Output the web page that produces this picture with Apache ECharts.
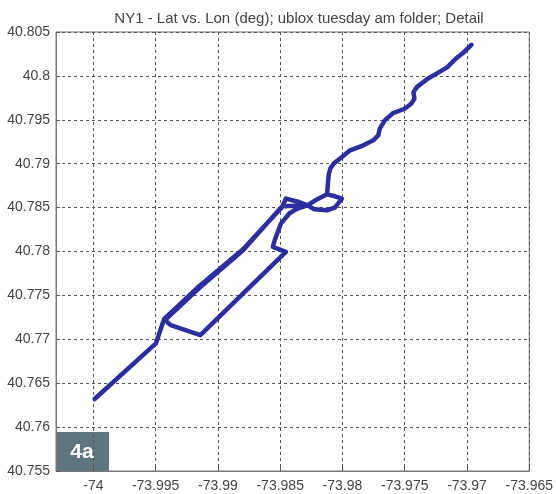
<!DOCTYPE html>
<html>
<head>
<meta charset="utf-8">
<script src="https://cdn.jsdelivr.net/npm/echarts@6/dist/echarts.min.js"></script>
<style>
html,body{margin:0;padding:0;background:#fff;}
#c{width:556px;height:494px;}
</style>
</head>
<body>
<div id="c"></div>
<script>
const titleText = 'NY1 - Lat vs. Lon (deg); ublox tuesday am folder; Detail';
const xTicks = [-74, -73.995, -73.99, -73.985, -73.98, -73.975, -73.97, -73.965];
const yTicks = [40.755, 40.76, 40.765, 40.77, 40.775, 40.78, 40.785, 40.79, 40.795, 40.8, 40.805];
const xRange = [-74.003, -73.965];
const yRange = [40.755, 40.805];
const badgeLabel = '4a';

// GPS track, in driving order
const lon = [
  -73.9999, -73.99498, -73.99440,
  -73.99155, -73.98798, -73.98480,
  -73.98454, -73.98348, -73.98282,
  -73.98226, -73.98123, -73.98059, -73.98004, -73.98059, -73.98123, -73.98218, -73.98282,
  -73.98361, -73.98425, -73.98494, -73.98544, -73.98559, -73.98454,
  -73.99141, -73.99379, -73.99433,
  -73.99155, -73.98798, -73.98480, -73.98380, -73.98282, -73.98218, -73.98123,
  -73.98117, -73.98109, -73.98097, -73.98070, -73.98004, -73.97938, -73.97832,
  -73.97752, -73.97713, -73.97700, -73.97660, -73.97594, -73.97501, -73.97448,
  -73.97422, -73.97430, -73.97403, -73.97316, -73.97224, -73.97157, -73.97091,
  -73.97025, -73.96964
];
const lat = [
  40.7632, 40.76953, 40.77198,
  40.77578, 40.78014, 40.78520,
  40.78602, 40.78564, 40.78526,
  40.78481, 40.78469, 40.78503, 40.78602, 40.78629, 40.78651, 40.78583, 40.78526,
  40.78489, 40.78435, 40.78318, 40.78128, 40.78052, 40.77995,
  40.77047, 40.77161, 40.77229,
  40.77599, 40.78026, 40.78514, 40.78522, 40.78526, 40.78583, 40.78651,
  40.78773, 40.78887, 40.78944, 40.79001, 40.79076, 40.79152, 40.79209,
  40.79266, 40.79322, 40.79399, 40.79493, 40.79576, 40.79626, 40.79683,
  40.79740, 40.79815, 40.79872, 40.79968, 40.80043, 40.80100, 40.80195,
  40.80270, 40.80354
];

const track = lon.map((v, i) => [v, lat[i]]);
const chart = echarts.init(document.getElementById('c'), null, {renderer: 'canvas'});
const fmt = v => String(+v.toFixed(3));
const labelStyle = {color: '#444', fontSize: 14, fontFamily: 'Liberation Sans, Arial, sans-serif'};
const gridLine = {show: true, lineStyle: {color: '#555', width: 1, type: [3, 3]}};

chart.setOption({
  animation: false,
  backgroundColor: '#fff',
  title: {
    text: titleText,
    left: 294, top: 6, textAlign: 'center',
    textStyle: {color: '#444', fontSize: 15, fontWeight: 'normal', fontFamily: 'Liberation Sans, Arial, sans-serif'}
  },
  grid: {left: 56, right: 21, top: 32, bottom: 23, show: true, borderColor: '#777', borderWidth: 1, containLabel: false},
  xAxis: {
    type: 'value', min: xRange[0], max: xRange[1],
    axisLine: {show: true, lineStyle: {color: '#777'}},
    axisTick: {show: true, inside: true, length: 4, customValues: xTicks, lineStyle: {color: '#555'}},
    axisLabel: {show: true, customValues: xTicks, margin: 8, formatter: fmt, ...labelStyle},
    splitLine: gridLine
  },
  yAxis: {
    type: 'value', min: yRange[0], max: yRange[1], interval: 0.005,
    axisLine: {show: true, lineStyle: {color: '#777'}},
    axisTick: {show: true, inside: true, length: 4, customValues: yTicks, lineStyle: {color: '#555'}},
    axisLabel: {show: true, customValues: yTicks, margin: 6, formatter: fmt, ...labelStyle},
    splitLine: gridLine
  },
  graphic: [{
    type: 'group', left: 56, top: 432,
    children: [
      {type: 'rect', shape: {x: 0, y: 0, width: 53, height: 39}, style: {fill: '#5f7680'}},
      {type: 'text', x: 26, y: 20, style: {text: badgeLabel, fill: '#fff', font: 'bold 21px "Liberation Sans Narrow", "Liberation Sans", Arial', align: 'center', verticalAlign: 'middle'}}
    ]
  }],
  series: [{
    type: 'line', data: track, showSymbol: false, smooth: false,
    lineStyle: {color: '#2b2f9e', width: 4.5, join: 'round', cap: 'round'},
    z: 3
  }]
});
</script>
</body>
</html>
